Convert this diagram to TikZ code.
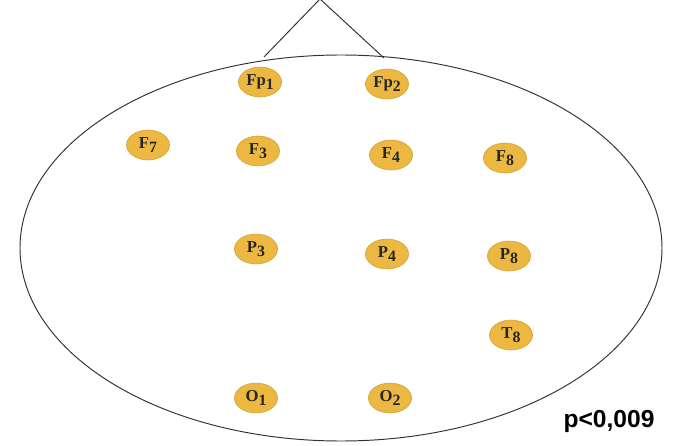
\documentclass[tikz,border=0pt]{standalone}
\usepackage{fontspec}
\setmainfont{Liberation Serif}
\newfontfamily\pfont{Liberation Sans}
\usetikzlibrary{shapes.geometric}
\definecolor{electrodegold}{RGB}{237,184,66}
\newcommand{\elab}[2]{\textbf{#1}\raisebox{-0.5ex}{\fontsize{9}{10}\selectfont\textbf{#2}}}

\begin{document}
\begin{tikzpicture}[
    x=0.02cm, y=-0.02cm,
    every node/.style={font=\fontsize{9.5}{10}\selectfont},
    electrode/.style={ellipse, fill=electrodegold, draw=electrodegold!90!black, thin,
                      inner sep=0pt, minimum width=24.5pt, minimum height=17pt,
                      text=black!85},
    head/.style     ={draw=black!80, line width=0.55pt},
    stat/.style     ={font=\pfont\bfseries\fontsize{14}{16}\selectfont},
]
\useasboundingbox (0,0) rectangle (673,446);
% head outline and nose
\coordinate (nosel) at (264,57);
\coordinate (noser) at (384,58);
\coordinate (apex)  at (320,-1);
\draw[head] (nosel) -- (apex) -- (noser);
\draw[head] (341,248) ellipse [x radius=321, y radius=193];
% electrodes
\node[electrode] (fp1) at (260,82)  {\elab{Fp}{1}};
\node[electrode] (fp2) at (387,84)  {\elab{Fp}{2}};
\node[electrode] (f7)  at (148,145) {\elab{F}{7}};
\node[electrode] (f3)  at (258,151) {\elab{F}{3}};
\node[electrode] (f4)  at (391,155) {\elab{F}{4}};
\node[electrode] (f8)  at (505,158) {\elab{F}{8}};
\node[electrode] (p3)  at (256,249) {\elab{P}{3}};
\node[electrode] (p4)  at (387,254) {\elab{P}{4}};
\node[electrode] (p8)  at (509,256) {\elab{P}{8}};
\node[electrode] (t8)  at (511,335) {\elab{T}{8}};
\node[electrode] (o1)  at (256,398) {\elab{O}{1}};
\node[electrode] (o2)  at (390,398) {\elab{O}{2}};
% significance
\node[stat] (pval) at (609,421) {p<0,009};
\end{tikzpicture}
\end{document}
